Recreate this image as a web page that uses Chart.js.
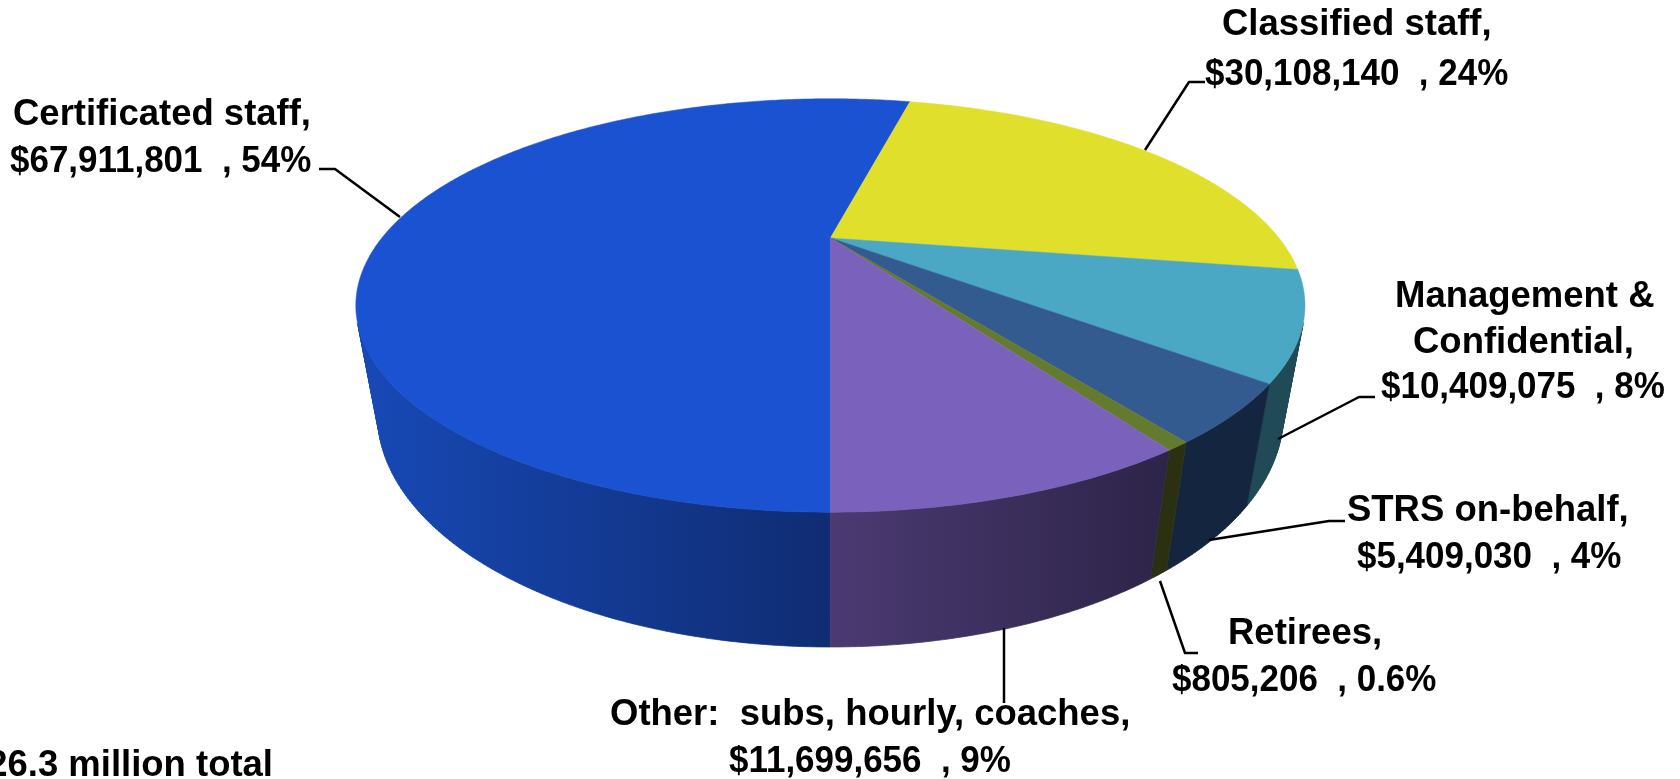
<!DOCTYPE html>
<html>
<head>
<meta charset="utf-8">
<title>Salaries by group</title>
<script src="https://cdn.jsdelivr.net/npm/chart.js@4/dist/chart.umd.js"></script>
<style>
html,body{margin:0;padding:0;background:#fff;overflow:hidden}
canvas{display:block}
</style>
</head>
<body>
<canvas id="pie" width="1680" height="779"></canvas>
<script>
const categories = ['Certificated staff','Classified staff','Management & Confidential','STRS on-behalf','Retirees','Other:  subs, hourly, coaches'];
const amounts = [67911801,30108140,10409075,5409030,805206,11699656];
const shares = ['54%','24%','8%','4%','0.6%','9%'];
const totalNote = '$126.3 million total';

const topColors = ['#1b52d1','#e0e02c','#4aa8c4','#335b90','#647a2e','#7a62bc'];
const wallLeft = ['#1749b6','#6f7014','#1f4a56','#14263f','#2a3010','#4b3a72'];
const wallRight = ['#102c72','#6f7014','#1f4a56','#14263f','#2a3010','#2d2448'];

// line breaks + left x / baseline for each label line
const labelLines = [['Certificated staff,'],['Classified staff,'],['Management &','Confidential,'],['STRS on-behalf,'],['Retirees,'],[categories[5]+',']];
const labelSpots = [
  [[13,125],[10,172]],
  [[1222,35],[1205,85]],
  [[1395,307],[1413,353],[1381,398]],
  [[1347,521],[1357,568]],
  [[1228,644],[1172,691]],
  [[610,725],[729,772]]
];
const leaders = [
  [[319,169],[335,169],[400,217]],
  [[1145,150],[1189,82],[1205,82]],
  [[1375,397],[1359,397],[1278,439]],
  [[1345,521],[1329,521],[1209,540]],
  [[1160,581],[1185,653],[1198,653]],
  [[1004,628],[1004,703]]
];

// camera: the pie is a real perspective view, apex sits above the middle of the ellipse
const CX = 830.4, CY = 238, SX = 448.6, SY = 184.7, TILT = 0.3264;
const DROP_Y = 108.4, DROP_W = 0.043;

function project(angle, lower){
  const X = Math.cos(angle), Y = Math.sin(angle);
  const w = 1 - TILT*Y + (lower ? DROP_W : 0);
  return [CX + SX*X/w, CY + (SY*Y + (lower ? DROP_Y : 0))/w];
}

function rimPoints(a0, a1, lower){
  const n = Math.max(2, Math.ceil((a1-a0)/0.01));
  const pts = [];
  for(let i=0;i<=n;i++) pts.push(project(a0+(a1-a0)*i/n, lower));
  return pts;
}

function quadArea(q){
  let s = 0;
  q.forEach((p,i)=>{const r = q[(i+1)%4]; s += p[0]*r[1]-r[0]*p[1];});
  return s;
}

// top face of each slice, angles come from the pie controller
Chart.ArcElement.prototype.draw = function(ctx){
  const pts = rimPoints(this.startAngle, this.endAngle, false);
  ctx.beginPath();
  ctx.moveTo(CX, CY);
  pts.forEach(p=>ctx.lineTo(p[0], p[1]));
  ctx.closePath();
  ctx.fillStyle = this.options.backgroundColor;
  ctx.strokeStyle = this.options.backgroundColor;
  ctx.lineWidth = 0.5;
  ctx.fill();
  ctx.stroke(); // hides the white hairline between slices
};

const walls = {
  id:'walls',
  beforeDatasetsDraw(chart){
    const ctx = chart.ctx;
    const arcs = chart.getDatasetMeta(0).data;
    // back to front so the nearer wall covers the farther one
    const order = arcs.map((a,i)=>i).sort((p,q)=>Math.sin((arcs[p].startAngle+arcs[p].endAngle)/2)-Math.sin((arcs[q].startAngle+arcs[q].endAngle)/2));
    order.forEach(i=>{
      const a = arcs[i];
      const upper = rimPoints(a.startAngle, a.endAngle, false);
      const lower = rimPoints(a.startAngle, a.endAngle, true);
      ctx.beginPath();
      let minX = Infinity, maxX = -Infinity;
      // one path of many quads so no seams, only the quads that face the viewer
      for(let k=0;k<upper.length-1;k++){
        const q = [upper[k],upper[k+1],lower[k+1],lower[k]];
        if(quadArea(q) >= 0) continue;
        q.forEach((p,n)=>{
          n ? ctx.lineTo(p[0],p[1]) : ctx.moveTo(p[0],p[1]);
          minX = Math.min(minX,p[0]); maxX = Math.max(maxX,p[0]);
        });
        ctx.closePath();
      }
      if(minX === Infinity) return;
      const grad = ctx.createLinearGradient(minX, 0, maxX, 0);
      grad.addColorStop(0, wallLeft[i]);
      grad.addColorStop(1, wallRight[i]);
      ctx.fillStyle = grad;
      ctx.strokeStyle = grad;
      ctx.lineWidth = 0.7;
      ctx.fill();
      ctx.stroke();
    });
  }
};

function squeezedText(ctx, text, x, y, sx){
  ctx.save();
  ctx.translate(x, y);
  ctx.scale(sx, 1);
  ctx.fillText(text, 0, 0);
  ctx.restore();
}

const callouts = {
  id:'callouts',
  afterDraw(chart){
    const ctx = chart.ctx;
    ctx.save();
    ctx.strokeStyle = '#000';
    ctx.lineWidth = 2.5;
    ctx.lineJoin = 'round';
    leaders.forEach(l=>{
      ctx.beginPath();
      l.forEach((p,k)=>k ? ctx.lineTo(p[0],p[1]) : ctx.moveTo(p[0],p[1]));
      ctx.stroke();
    });
    ctx.fillStyle = '#000';
    ctx.font = 'bold 37px "Liberation Sans", Arial, sans-serif';
    ctx.textBaseline = 'alphabetic';
    ctx.textAlign = 'left';
    categories.forEach((c,i)=>{
      const names = labelLines[i], spots = labelSpots[i];
      names.forEach((t,k)=>squeezedText(ctx, t, spots[k][0], spots[k][1], 0.986));
      const money = '$'+amounts[i].toLocaleString('en-US')+'  , '+shares[i];
      squeezedText(ctx, money, spots[names.length][0], spots[names.length][1], 0.945);
    });
    ctx.textAlign = 'right';
    squeezedText(ctx, totalNote, 273, 776, 0.986);
    ctx.restore();
  }
};

new Chart(document.getElementById('pie'),{
  type:'pie',
  data:{labels:categories,datasets:[{data:amounts,backgroundColor:topColors,borderWidth:0}]},
  options:{
    responsive:false,
    animation:false,
    rotation:180,
    plugins:{legend:{display:false},tooltip:{enabled:false}}
  },
  plugins:[walls,callouts]
});
</script>
</body>
</html>
